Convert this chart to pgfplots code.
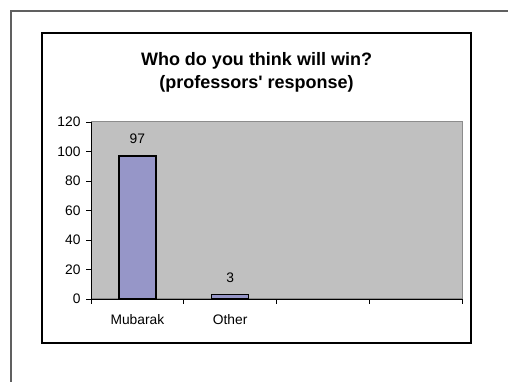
\documentclass[border=0pt]{standalone}
\usepackage{pgfplots}
\pgfplotsset{compat=1.18}
\usepackage{fontspec}
\setmainfont{Liberation Sans}[Ligatures=TeXOff]
\definecolor{plotbg}{RGB}{192,192,192}
\definecolor{barfill}{RGB}{150,150,200}
\definecolor{framegray}{RGB}{96,96,96}
\definecolor{areaedge}{RGB}{140,140,140}
\begin{document}
\begin{tikzpicture}[x=1pt,y=1pt]
\useasboundingbox (0,0) rectangle (508,382);
% page frame
\draw[framegray,line width=1.5pt] (11,0) -- (11,371) -- (508,371);
% chart area
\draw[black,line width=1.8pt] (42,39) rectangle (471,349);
% title
\node[font=\fontsize{18}{23}\selectfont\bfseries,align=center] at (256.5,309.5)
  {Who do you think will win?\\(professors' response)};
\begin{axis}[
  at={(91pt,83pt)}, anchor=south west,
  scale only axis,
  width=371pt, height=177pt,
  xmin=0, xmax=4, ymin=0, ymax=120,
  ytick={0,20,...,120},
  xtick={0.5,1.5},
  xticklabels={Mubarak,Other},
  major x tick style={draw=none},
  minor xtick={0,1,2,3,4},
  minor x tick style={black,line width=0.8pt},
  minor tick length=5pt,
  major tick length=5pt,
  tick align=outside,
  xtick pos=bottom, ytick pos=left,
  axis x line*=bottom, axis y line*=left,
  axis line style={black,line width=0.8pt,-},
  ytick style={black,line width=0.8pt},
  axis background/.style={fill=plotbg,draw=areaedge,line width=1pt},
  tick label style={font=\fontsize{13.8}{15}\selectfont},
  /pgf/number format/assume math mode=true,
  yticklabel style={xshift=-2pt},
  xticklabel style={yshift=-7pt},
  ybar, bar width=37pt,
  nodes near coords,
  nodes near coords style={font=\fontsize{13.8}{15}\selectfont,yshift=8pt},
  clip=false,
]
\addplot[fill=barfill,draw=black,line width=1.5pt] coordinates {(0.5,97) (1.5,3)};
\end{axis}
\end{tikzpicture}
\end{document}
